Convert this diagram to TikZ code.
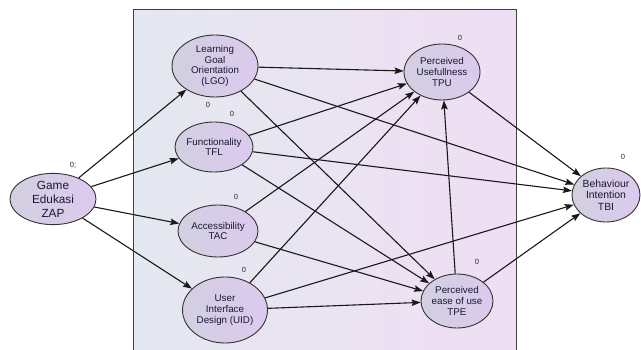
\documentclass[tikz,border=0pt]{standalone}
\usepackage{fontspec}
\setmainfont{Liberation Sans}
\usetikzlibrary{arrows.meta,shapes.geometric}
\definecolor{txt}{RGB}{24,24,56}
\definecolor{bgleft}{RGB}{228,232,240}
\definecolor{bgright}{RGB}{240,222,244}
\definecolor{elleft}{RGB}{210,207,224}
\definecolor{elright}{RGB}{220,202,238}

\begin{document}
\begin{tikzpicture}[
  x=1pt,y=-1pt,
  font=\fontsize{9.8}{10.8}\selectfont,
  >={Stealth[length=9pt,width=6.5pt,inset=1.5pt]},
  var/.style={ellipse,draw=black!80,line width=0.9pt,left color=elleft,right color=elright,
    align=center,inner sep=0pt,text=txt},
  err/.style={font=\fontsize{7.5}{8}\selectfont,text=black!85,inner sep=0pt},
  arr/.style={->,line width=1.1pt,black!90}
]
\useasboundingbox (0,0) rectangle (641,350);
\shade[left color=bgleft,right color=bgright] (133,10) rectangle (516,352);
\draw[line width=1pt,black!75] (133,352) -- (133,10) -- (516,10) -- (516,352);

% exogenous and inner variables
\node[var,minimum width=86pt,minimum height=46pt,font=\fontsize{11.8}{14}\selectfont] (ZAP) at (53,199) {Game\\Edukasi\\ZAP};
\node[var,minimum width=86pt,minimum height=62pt] (LGO) at (215,66) {Learning\\Goal\\Orientation\\(LGO)};
\node[var,minimum width=78pt,minimum height=50pt] (TFL) at (214,147) {Functionality\\TFL};
\node[var,minimum width=80pt,minimum height=52pt] (TAC) at (218,231) {Accessibility\\TAC};
\node[var,minimum width=85pt,minimum height=66pt] (UID) at (225,310) {User\\Interface\\Design (UID)};
\node[var,minimum width=76pt,minimum height=56pt] (TPU) at (442,72) {Perceived\\Usefullness\\TPU};
\node[var,minimum width=72pt,minimum height=54pt] (TPE) at (457,301) {Perceived\\ease of use\\TPE};
\node[var,minimum width=68pt,minimum height=54pt,font=\fontsize{10.4}{11.6}\selectfont] (TBI) at (606,195) {Behaviour\\Intention\\TBI};

% error terms
\node[err] (zap0) at (73,165) {0;};
\node[err] (lgo0) at (208,105) {0};
\node[err] (tfl0) at (232,114) {0};
\node[err] (tac0) at (236,197) {0};
\node[err] (uid0) at (244,270) {0};
\node[err] (tpu0) at (460,38) {0};
\node[err] (tpe0) at (477,262) {0};
\node[err] (tbi0) at (623,157) {0};

% paths
\foreach \t in {LGO,TFL,TAC,UID}
  \draw[arr] (ZAP) -- (\t);
\foreach \s in {LGO,TFL,UID}
  \draw[arr] (\s) -- (TBI);
\foreach \s in {LGO,TFL,TAC,UID}{
  \draw[arr] (\s) -- (TPU);
  \draw[arr] (\s) -- (TPE);
}
\draw[arr] (TPE) -- (TPU);
\draw[arr] (TPE) -- (TBI);
\draw[arr] (TPU) -- (TBI);
\end{tikzpicture}
\end{document}
